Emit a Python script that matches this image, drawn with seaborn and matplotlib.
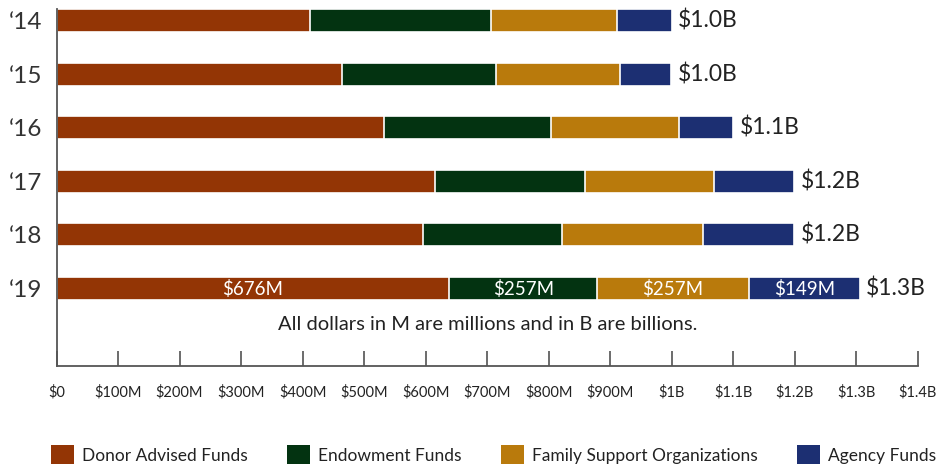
import numpy as np
import pandas as pd
import matplotlib
matplotlib.use("Agg")
import matplotlib.pyplot as plt
from matplotlib.patches import Patch
import seaborn as sns

sns.set_style('white')
plt.rcParams['font.family'] = ['Lato', 'DejaVu Sans']

years = ["\u201814", "\u201815", "\u201816", "\u201817", "\u201818", "\u201819"]
series = ["Donor Advised Funds", "Endowment Funds", "Family Support Organizations", "Agency Funds"]
colors = ["#933505", "#033311", "#B97A0C", "#1C2F72"]

# values in $M
donor_advised = [412, 464, 533, 615, 596, 638]
endowment = [294, 250, 270, 244, 225, 241]
family_support = [205, 202, 209, 210, 229, 246]
agency = [89, 83, 88, 130, 149, 181]

total_labels = ["$1.0B", "$1.0B", "$1.1B", "$1.2B", "$1.2B", "$1.3B"]
last_year_labels = ["$676M", "$257M", "$257M", "$149M"]

tick_vals = [0, 100, 200, 300, 400, 500, 600, 700, 800, 900, 1000, 1100, 1200, 1300, 1400]
tick_labels = ["$0", "$100M", "$200M", "$300M", "$400M", "$500M", "$600M", "$700M",
               "$800M", "$900M", "$1B", "$1.1B", "$1.2B", "$1.3B", "$1.4B"]

df = pd.DataFrame({"year": years,
                   series[0]: donor_advised,
                   series[1]: endowment,
                   series[2]: family_support,
                   series[3]: agency})
cum = df[series].cumsum(axis=1)

fig = plt.figure(figsize=(9.37, 4.69), dpi=100)
ax = fig.add_axes([0.0603, 0.2196, 0.9797 - 0.0603, 0.9808 - 0.2196])

# draw the stacks from the outermost segment inward
for name, c in reversed(list(zip(series, colors))):
    sns.barplot(x=cum[name], y=df["year"], orient="h", color=c, width=0.43,
                saturation=1, edgecolor="white", linewidth=1.2, ax=ax, order=years)

ax.set_xlim(0, 1400)
ax.set_ylim(6.45, -0.215)

totals = cum[series[-1]].values
for i, (t, lab) in enumerate(zip(totals, total_labels)):
    ax.text(t + 10, i, lab, va="center", ha="left", fontsize=16.5, color="#222222")

# segment labels on the last year
last = len(years) - 1
starts = np.concatenate([[0], cum.iloc[last].values[:-1]])
ends = cum.iloc[last].values
for s, e, lab in zip(starts, ends, last_year_labels):
    ax.text((s + e) / 2, last + 0.02, lab, va="center", ha="center", fontsize=13.5, color="white")

ax.text(700, 5.68, "All dollars in M are millions and in B are billions.",
        ha="center", va="center", fontsize=14.5, color="#222222")

ax.set_xticks(tick_vals)
ax.set_xticklabels(tick_labels, fontsize=10.5, color="#222222")
ax.tick_params(axis="x", bottom=True, direction="in", length=11, width=1.1,
               color="#444444", pad=14)
ax.tick_params(axis="y", left=False, length=0, pad=10, labelsize=17.5, labelcolor="#333333")
ax.set_xlabel("")
ax.set_ylabel("")

sns.despine(ax=ax)
for sp in ["left", "bottom"]:
    ax.spines[sp].set_color("#555555")
    ax.spines[sp].set_linewidth(1.3)

handles = [Patch(facecolor=c, edgecolor="none") for c in colors]
fig.legend(handles, series, loc="center", bbox_to_anchor=(0.527, 0.03), ncol=4,
           frameon=False, fontsize=12.5, handlelength=1.3, handleheight=1.3,
           handletextpad=0.5, columnspacing=2.25, labelcolor="#222222")

fig.savefig("out.png", dpi=100)
